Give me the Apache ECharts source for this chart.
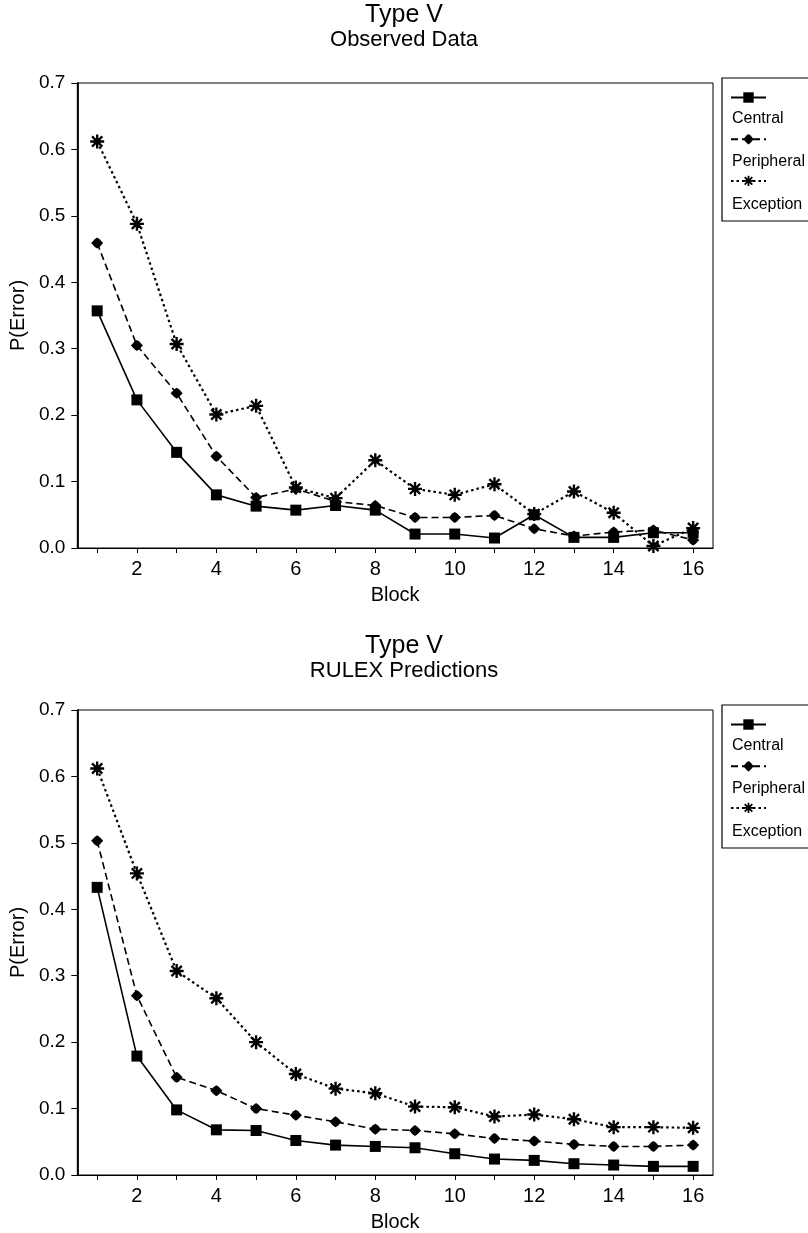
<!DOCTYPE html>
<html><head><meta charset="utf-8">
<script src="https://cdn.jsdelivr.net/npm/echarts@6/dist/echarts.min.js"></script>
<style>html,body{margin:0;padding:0;background:#fff}#c{width:808px;height:1233px}</style>
</head><body><div id="c"></div>
<script>
const blocks = ['1','2','3','4','5','6','7','8','9','10','11','12','13','14','15','16'];
const yTickLabels = ['0.0','0.1','0.2','0.3','0.4','0.5','0.6','0.7'];
const seriesNames = ['Central','Peripheral','Exception'];

const obsCentral    = [0.357,0.223,0.144,0.080,0.063,0.057,0.064,0.057,0.021,0.021,0.015,0.050,0.016,0.016,0.023,0.023];
const obsPeripheral = [0.459,0.305,0.233,0.138,0.076,0.089,0.070,0.064,0.046,0.046,0.049,0.029,0.018,0.024,0.027,0.012];
const obsException  = [0.612,0.488,0.307,0.201,0.214,0.091,0.075,0.132,0.089,0.080,0.096,0.051,0.085,0.053,0.003,0.030];

const rulexCentral    = [0.433,0.179,0.098,0.068,0.067,0.052,0.045,0.043,0.041,0.032,0.024,0.022,0.017,0.015,0.013,0.013];
const rulexPeripheral = [0.503,0.270,0.147,0.127,0.100,0.090,0.080,0.069,0.067,0.062,0.055,0.051,0.046,0.043,0.043,0.045];
const rulexException  = [0.612,0.454,0.307,0.266,0.200,0.152,0.130,0.123,0.103,0.102,0.088,0.091,0.084,0.072,0.072,0.071];

const FONT = '"Liberation Sans", Arial, Helvetica, sans-serif';
const ASTERISK = 'path://M0,8.3L20,8.3L20,11.7L0,11.7Z M8.3,0L11.7,0L11.7,20L8.3,20Z M1.5,3.9L3.9,1.5L18.5,16.1L16.1,18.5Z M16.1,1.5L18.5,3.9L3.9,18.5L1.5,16.1Z';
const BLOB = 'path://M10,0L14,3L20,10L14,17L10,20L6,17L0,10L6,3Z';

const styles = {
  Central:    {symbol:'rect', symbolSize:11, line:{type:'solid', width:1.6}},
  Peripheral: {symbol:BLOB, symbolSize:[12,11], line:{type:[7,4], width:1.6}},
  Exception:  {symbol:ASTERISK, symbolSize:14, line:{type:[2.5,3], width:2.2}}
};

function mkSeries(name, data, idx){
  const s = styles[name];
  return {
    name, type:'line', data, xAxisIndex:idx, yAxisIndex:idx,
    symbol:s.symbol, symbolSize:s.symbolSize, showAllSymbol:true,
    itemStyle:{color:'#000'},
    lineStyle:{color:'#000', type:s.line.type, width:s.line.width},
    emphasis:{disabled:true}, animation:false, z: 3
  };
}

const offs = [0, 627];
const grids = offs.map(o => ({left:75, right:95, top:83 + o, height:465, show:true, borderColor:'#000', borderWidth:1, backgroundColor:'transparent'}));

function mkX(idx){
  return {
    type:'category', gridIndex:idx, data:blocks, boundaryGap:true,
    name:'Block', nameLocation:'middle', nameGap:37,
    nameTextStyle:{fontSize:20, fontFamily:FONT, color:'#000'},
    axisLine:{show:true, lineStyle:{color:'#000', width:1}},
    axisTick:{show:true, alignWithLabel:true, interval:0, length:5, lineStyle:{color:'#000'}},
    axisLabel:{interval:(i) => i % 2 === 1, fontSize:20, fontFamily:FONT, color:'#000', margin:11},
    splitLine:{show:false}
  };
}
function mkY(idx){
  return {
    type:'value', gridIndex:idx, min:0, max:0.7, interval:0.1,
    name:'P(Error)', nameLocation:'middle', nameGap:48,
    nameTextStyle:{fontSize:20, fontFamily:FONT, color:'#000'},
    axisLine:{show:true, lineStyle:{color:'#000', width:1.8}},
    axisTick:{show:true, length:6, lineStyle:{color:'#000'}},
    axisLabel:{fontSize:19, fontFamily:FONT, color:'#000', margin:12,
      formatter:(v) => yTickLabels[Math.round(v * 10)]},
    splitLine:{show:false}
  };
}

const subtitles = ['Observed Data','RULEX Predictions'];
const titleTops = [3, 634];
const titles = titleTops.map((t, i) => ({
  text:'Type V', subtext:subtitles[i], left:'center', top:t, padding:0, itemGap:1,
  textStyle:{fontSize:25, fontWeight:'normal', fontFamily:FONT, color:'#000'},
  subtextStyle:{fontSize:22, fontFamily:FONT, color:'#000'}
}));

const legends = offs.map(o => ({
  orient:'vertical', left:730, top:91 + o, itemWidth:35, itemHeight:13, itemGap:30,
  padding:0, data:seriesNames, formatter:() => '', selectedMode:false,
  textStyle:{fontSize:16, fontFamily:FONT}
}));

const graphics = [];
offs.forEach(o => {
  graphics.push({type:'rect', shape:{x:722, y:78 + o, width:120, height:143},
    style:{fill:'none', stroke:'#000', lineWidth:1.2}, z:1});
  seriesNames.forEach((n, k) => {
    graphics.push({type:'text', x:732, y:119 + o + k * 43,
      style:{text:n, fontSize:16, fontFamily:FONT, fill:'#000', align:'left', verticalAlign:'middle'}, z:2});
  });
});

const chart = echarts.init(document.getElementById('c'), null, {renderer:'canvas'});
chart.setOption({
  backgroundColor:'#fff',
  animation:false,
  title:titles,
  legend:legends,
  grid:grids,
  xAxis:[mkX(0), mkX(1)],
  yAxis:[mkY(0), mkY(1)],
  graphic:graphics,
  series:[
    mkSeries('Central', obsCentral, 0),
    mkSeries('Peripheral', obsPeripheral, 0),
    mkSeries('Exception', obsException, 0),
    mkSeries('Central', rulexCentral, 1),
    mkSeries('Peripheral', rulexPeripheral, 1),
    mkSeries('Exception', rulexException, 1)
  ]
});
</script></body></html>
